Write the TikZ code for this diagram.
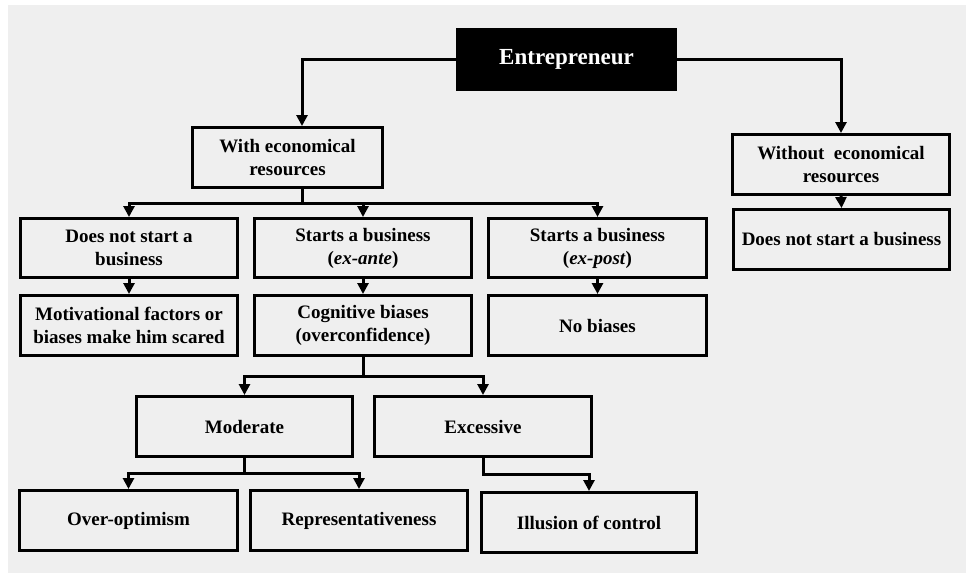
\documentclass[tikz,border=0pt]{standalone}
\usepackage{fontspec}
\setmainfont{Liberation Serif}
\usetikzlibrary{arrows.meta}
\definecolor{bgray}{HTML}{EFEFEF}
\tikzset{
	box/.style={draw, line width=3pt, minimum height=60pt, align=center, inner sep=2pt, font=\bfseries\fontsize{19}{23}\selectfont},
	ln/.style={line width=3pt},
	arr/.style={line width=3pt, -{Triangle[length=11pt,width=11pt]}}
}

\begin{document}
\begin{tikzpicture}[x=1pt,y=-1pt]
	\useasboundingbox (0,0) rectangle (974,573);
	\fill[bgray] (8,5) rectangle (966,573);
	\node[box, fill=black, text=white, minimum width=218pt, font=\bfseries\fontsize{23}{27}\selectfont] (0) at (566.5,59.5) {Entrepreneur};
	\node[box, minimum width=190pt] (1) at (287.5,157.5) {With economical\\resources};
	\node[box, minimum width=217pt] (2) at (841,164.5) {Without~~economical\\resources};
	\node[box, minimum width=216pt] (3) at (841.5,239.5) {Does not start a business};
	\node[box, minimum width=217pt, minimum height=59pt] (4) at (129,248) {Does not start a\\business};
	\node[box, minimum width=217pt, minimum height=59pt] (5) at (363,248) {Starts a business\\(\textit{ex-ante})};
	\node[box, minimum width=218pt, minimum height=59pt] (6) at (597.5,248) {Starts a business\\(\textit{ex-post})};
	\node[box, minimum width=217pt] (7) at (129,325.5) {Motivational factors or\\biases make him scared};
	\node[box, minimum width=217pt] (8) at (363,325.5) {Cognitive biases\\(overconfidence)};
	\node[box, minimum width=218pt] (9) at (597.5,325.5) {No biases};
	\node[box, minimum width=216pt] (10) at (244.5,426.5) {Moderate};
	\node[box, minimum width=217pt] (11) at (483,426.5) {Excessive};
	\node[box, minimum width=218pt] (12) at (128.5,520.5) {Over-optimism};
	\node[box, minimum width=217pt] (13) at (359,520.5) {Representativeness};
	\node[box, minimum width=215pt] (14) at (589,522.5) {Illusion of control};
	\coordinate (a) at (302,203);
	\coordinate (b) at (363,376);
	\coordinate (c) at (244.5,473);
	\coordinate (d) at (483,474);
	\draw[arr] (0.west) -| ([xshift=14.5pt]1.north);
	\draw[arr] (0.east) -| (2.north);
	\draw[arr] (2.south) -- (3.north);
	\draw[ln] ([xshift=14.5pt]1.south) -- (a);
	\draw[arr] (a) -| (4.north);
	\draw[arr] (a) -| (5.north);
	\draw[arr] (a) -| (6.north);
	\draw[arr] (4.south) -- (7.north);
	\draw[arr] (5.south) -- (8.north);
	\draw[arr] (6.south) -- (9.north);
	\draw[ln] (8.south) -- (b);
	\draw[arr] (b) -| (10.north);
	\draw[arr] (b) -| (11.north);
	\draw[ln] (10.south) -- (c);
	\draw[arr] (c) -| (12.north);
	\draw[arr] (c) -| (13.north);
	\draw[arr] (11.south) -- (d) -| (14.north);
\end{tikzpicture}
\end{document}
